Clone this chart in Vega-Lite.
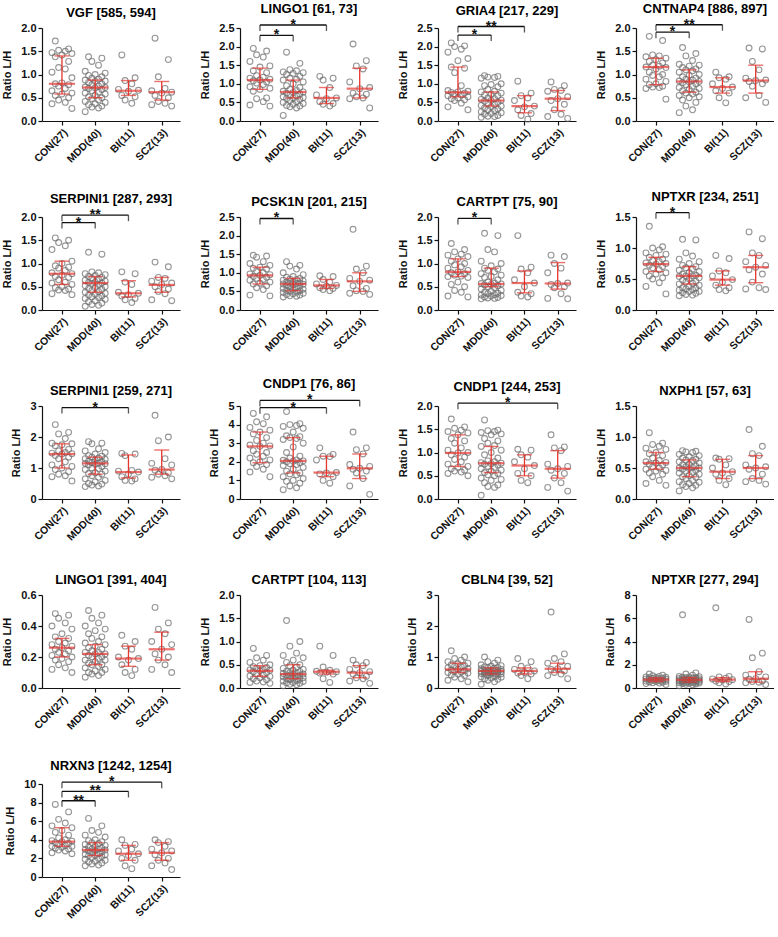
{
"$schema":"https://vega.github.io/schema/vega-lite/v6.json",
"background":"white",
"padding":{"left":1,"top":2,"right":0,"bottom":0},
"datasets":{
"panels":[
{"p":1,"t":"VGF [585, 594]","ymax":2},
{"p":2,"t":"LINGO1 [61, 73]","ymax":2.5},
{"p":3,"t":"GRIA4 [217, 229]","ymax":2.5},
{"p":4,"t":"CNTNAP4 [886, 897]","ymax":2},
{"p":5,"t":"SERPINI1 [287, 293]","ymax":2},
{"p":6,"t":"PCSK1N [201, 215]","ymax":2.5},
{"p":7,"t":"CARTPT [75, 90]","ymax":2},
{"p":8,"t":"NPTXR [234, 251]","ymax":1.5},
{"p":9,"t":"SERPINI1 [259, 271]","ymax":3},
{"p":10,"t":"CNDP1 [76, 86]","ymax":5},
{"p":11,"t":"CNDP1 [244, 253]","ymax":2},
{"p":12,"t":"NXPH1 [57, 63]","ymax":1.5},
{"p":13,"t":"LINGO1 [391, 404]","ymax":0.6},
{"p":14,"t":"CARTPT [104, 113]","ymax":2},
{"p":15,"t":"CBLN4 [39, 52]","ymax":3},
{"p":16,"t":"NPTXR [277, 294]","ymax":8},
{"p":17,"t":"NRXN3 [1242, 1254]","ymax":10}
],
"rows":[
{"p":1,"g":0,"med":0.8,"q1":0.58,"q3":1.4},{"p":1,"g":1,"med":0.72,"q1":0.5,"q3":0.88},{"p":1,"g":2,"med":0.65,"q1":0.55,"q3":0.87},{"p":1,"g":3,"med":0.62,"q1":0.45,"q3":0.85},
{"p":2,"g":0,"med":1.1,"q1":0.85,"q3":1.42},{"p":2,"g":1,"med":0.78,"q1":0.62,"q3":1.1},{"p":2,"g":2,"med":0.62,"q1":0.47,"q3":0.9},{"p":2,"g":3,"med":0.87,"q1":0.62,"q3":1.42},
{"p":3,"g":0,"med":0.77,"q1":0.65,"q3":1.45},{"p":3,"g":1,"med":0.55,"q1":0.4,"q3":0.78},{"p":3,"g":2,"med":0.4,"q1":0.22,"q3":0.68},{"p":3,"g":3,"med":0.6,"q1":0.28,"q3":0.82},
{"p":4,"g":0,"med":1.16,"q1":0.78,"q3":1.35},{"p":4,"g":1,"med":0.85,"q1":0.62,"q3":1.1},{"p":4,"g":2,"med":0.73,"q1":0.6,"q3":0.93},{"p":4,"g":3,"med":0.87,"q1":0.6,"q3":1.2},
{"p":5,"g":0,"med":0.78,"q1":0.55,"q3":1.05},{"p":5,"g":1,"med":0.58,"q1":0.38,"q3":0.72},{"p":5,"g":2,"med":0.36,"q1":0.28,"q3":0.63},{"p":5,"g":3,"med":0.54,"q1":0.38,"q3":0.7},
{"p":6,"g":0,"med":0.93,"q1":0.7,"q3":1.15},{"p":6,"g":1,"med":0.7,"q1":0.52,"q3":0.85},{"p":6,"g":2,"med":0.66,"q1":0.58,"q3":0.82},{"p":6,"g":3,"med":0.77,"q1":0.5,"q3":1.0},
{"p":7,"g":0,"med":0.82,"q1":0.72,"q3":1.1},{"p":7,"g":1,"med":0.56,"q1":0.5,"q3":0.9},{"p":7,"g":2,"med":0.58,"q1":0.37,"q3":0.84},{"p":7,"g":3,"med":0.57,"q1":0.45,"q3":1.02},
{"p":8,"g":0,"med":0.74,"q1":0.62,"q3":0.85},{"p":8,"g":1,"med":0.55,"q1":0.42,"q3":0.7},{"p":8,"g":2,"med":0.49,"q1":0.4,"q3":0.63},{"p":8,"g":3,"med":0.69,"q1":0.44,"q3":0.88},
{"p":9,"g":0,"med":1.45,"q1":1.0,"q3":1.78},{"p":9,"g":1,"med":1.15,"q1":0.8,"q3":1.35},{"p":9,"g":2,"med":0.87,"q1":0.68,"q3":1.42},{"p":9,"g":3,"med":0.95,"q1":0.8,"q3":1.58},
{"p":10,"g":0,"med":2.83,"q1":1.95,"q3":3.6},{"p":10,"g":1,"med":2.05,"q1":1.4,"q3":3.3},{"p":10,"g":2,"med":1.42,"q1":1.2,"q3":2.3},{"p":10,"g":3,"med":1.65,"q1":1.1,"q3":2.42},
{"p":11,"g":0,"med":0.99,"q1":0.7,"q3":1.38},{"p":11,"g":1,"med":0.77,"q1":0.57,"q3":1.13},{"p":11,"g":2,"med":0.72,"q1":0.5,"q3":0.95},{"p":11,"g":3,"med":0.65,"q1":0.45,"q3":1.04},
{"p":12,"g":0,"med":0.58,"q1":0.48,"q3":0.75},{"p":12,"g":1,"med":0.5,"q1":0.36,"q3":0.63},{"p":12,"g":2,"med":0.44,"q1":0.33,"q3":0.64},{"p":12,"g":3,"med":0.5,"q1":0.33,"q3":0.7},
{"p":13,"g":0,"med":0.26,"q1":0.2,"q3":0.32},{"p":13,"g":1,"med":0.22,"q1":0.15,"q3":0.28},{"p":13,"g":2,"med":0.19,"q1":0.14,"q3":0.27},{"p":13,"g":3,"med":0.25,"q1":0.18,"q3":0.36},
{"p":14,"g":0,"med":0.37,"q1":0.25,"q3":0.48},{"p":14,"g":1,"med":0.3,"q1":0.2,"q3":0.5},{"p":14,"g":2,"med":0.35,"q1":0.3,"q3":0.38},{"p":14,"g":3,"med":0.33,"q1":0.22,"q3":0.48},
{"p":15,"g":0,"med":0.6,"q1":0.5,"q3":0.8},{"p":15,"g":1,"med":0.55,"q1":0.45,"q3":0.65},{"p":15,"g":2,"med":0.55,"q1":0.45,"q3":0.65},{"p":15,"g":3,"med":0.62,"q1":0.5,"q3":0.8},
{"p":16,"g":0,"med":0.72,"q1":0.55,"q3":0.88},{"p":16,"g":1,"med":0.7,"q1":0.5,"q3":0.9},{"p":16,"g":2,"med":0.72,"q1":0.55,"q3":0.9},{"p":16,"g":3,"med":0.8,"q1":0.5,"q3":1.4},
{"p":17,"g":0,"med":3.8,"q1":3.3,"q3":5.3},{"p":17,"g":1,"med":2.9,"q1":2.3,"q3":3.7},{"p":17,"g":2,"med":2.5,"q1":1.8,"q3":3.4},{"p":17,"g":3,"med":2.6,"q1":1.8,"q3":3.7},
{"p":2,"a":0,"b":1,"by":2.3,"s":"*"},{"p":2,"a":0,"b":2,"by":2.58,"s":"*"},
{"p":3,"a":0,"b":1,"by":2.31,"s":"*"},{"p":3,"a":0,"b":2,"by":2.54,"s":"**"},
{"p":4,"a":0,"b":1,"by":1.91,"s":"*"},{"p":4,"a":0,"b":2,"by":2.07,"s":"**"},
{"p":5,"a":0,"b":1,"by":1.88,"s":"*"},{"p":5,"a":0,"b":2,"by":2.04,"s":"**"},
{"p":6,"a":0,"b":1,"by":2.46,"s":"*"},
{"p":7,"a":0,"b":1,"by":1.97,"s":"*"},
{"p":8,"a":0,"b":1,"by":1.57,"s":"*"},
{"p":9,"a":0,"b":2,"by":2.95,"s":"*"},
{"p":10,"a":0,"b":2,"by":4.91,"s":"*"},{"p":10,"a":0,"b":3,"by":5.3,"s":"*"},
{"p":11,"a":0,"b":3,"by":2.06,"s":"*"},
{"p":17,"a":0,"b":1,"by":8.2,"s":"**"},{"p":17,"a":0,"b":2,"by":9.2,"s":"**"},{"p":17,"a":0,"b":3,"by":10.2,"s":"*"},
{"p":1,"g":0,"v":1.72},{"p":1,"g":0,"v":1.55},{"p":1,"g":0,"v":1.52},{"p":1,"g":0,"v":1.5},{"p":1,"g":0,"v":1.47},{"p":1,"g":0,"v":1.45},{"p":1,"g":0,"v":1.42},{"p":1,"g":0,"v":1.38},{"p":1,"g":0,"v":1.28},{"p":1,"g":0,"v":1.15},{"p":1,"g":0,"v":1.12},{"p":1,"g":0,"v":1.05},{"p":1,"g":0,"v":0.93},{"p":1,"g":0,"v":0.82},{"p":1,"g":0,"v":0.8},{"p":1,"g":0,"v":0.78},{"p":1,"g":0,"v":0.75},{"p":1,"g":0,"v":0.7},{"p":1,"g":0,"v":0.65},{"p":1,"g":0,"v":0.6},{"p":1,"g":0,"v":0.58},{"p":1,"g":0,"v":0.55},{"p":1,"g":0,"v":0.5},{"p":1,"g":0,"v":0.45},{"p":1,"g":0,"v":0.4},{"p":1,"g":0,"v":0.37},{"p":1,"g":0,"v":0.27},
{"p":1,"g":1,"v":1.38},{"p":1,"g":1,"v":1.35},{"p":1,"g":1,"v":1.28},{"p":1,"g":1,"v":1.2},{"p":1,"g":1,"v":1.07},{"p":1,"g":1,"v":1.03},{"p":1,"g":1,"v":1.0},{"p":1,"g":1,"v":0.98},{"p":1,"g":1,"v":0.95},{"p":1,"g":1,"v":0.92},{"p":1,"g":1,"v":0.9},{"p":1,"g":1,"v":0.88},{"p":1,"g":1,"v":0.86},{"p":1,"g":1,"v":0.85},{"p":1,"g":1,"v":0.83},{"p":1,"g":1,"v":0.8},{"p":1,"g":1,"v":0.78},{"p":1,"g":1,"v":0.75},{"p":1,"g":1,"v":0.73},{"p":1,"g":1,"v":0.72},{"p":1,"g":1,"v":0.71},{"p":1,"g":1,"v":0.7},{"p":1,"g":1,"v":0.68},{"p":1,"g":1,"v":0.65},{"p":1,"g":1,"v":0.62},{"p":1,"g":1,"v":0.6},{"p":1,"g":1,"v":0.58},{"p":1,"g":1,"v":0.55},{"p":1,"g":1,"v":0.52},{"p":1,"g":1,"v":0.5},{"p":1,"g":1,"v":0.48},{"p":1,"g":1,"v":0.45},{"p":1,"g":1,"v":0.42},{"p":1,"g":1,"v":0.4},{"p":1,"g":1,"v":0.37},{"p":1,"g":1,"v":0.35},{"p":1,"g":1,"v":0.32},{"p":1,"g":1,"v":0.3},{"p":1,"g":1,"v":0.28},{"p":1,"g":1,"v":0.2},
{"p":1,"g":2,"v":1.42},{"p":1,"g":2,"v":0.93},{"p":1,"g":2,"v":0.87},{"p":1,"g":2,"v":0.8},{"p":1,"g":2,"v":0.68},{"p":1,"g":2,"v":0.66},{"p":1,"g":2,"v":0.64},{"p":1,"g":2,"v":0.55},{"p":1,"g":2,"v":0.52},{"p":1,"g":2,"v":0.45},{"p":1,"g":2,"v":0.38},
{"p":1,"g":3,"v":1.78},{"p":1,"g":3,"v":1.32},{"p":1,"g":3,"v":0.95},{"p":1,"g":3,"v":0.7},{"p":1,"g":3,"v":0.65},{"p":1,"g":3,"v":0.62},{"p":1,"g":3,"v":0.6},{"p":1,"g":3,"v":0.55},{"p":1,"g":3,"v":0.5},{"p":1,"g":3,"v":0.42},{"p":1,"g":3,"v":0.38},{"p":1,"g":3,"v":0.35},{"p":1,"g":3,"v":0.32},
{"p":2,"g":0,"v":1.95},{"p":2,"g":0,"v":1.88},{"p":2,"g":0,"v":1.78},{"p":2,"g":0,"v":1.72},{"p":2,"g":0,"v":1.6},{"p":2,"g":0,"v":1.48},{"p":2,"g":0,"v":1.45},{"p":2,"g":0,"v":1.35},{"p":2,"g":0,"v":1.3},{"p":2,"g":0,"v":1.22},{"p":2,"g":0,"v":1.18},{"p":2,"g":0,"v":1.15},{"p":2,"g":0,"v":1.12},{"p":2,"g":0,"v":1.1},{"p":2,"g":0,"v":1.08},{"p":2,"g":0,"v":1.05},{"p":2,"g":0,"v":1.02},{"p":2,"g":0,"v":0.98},{"p":2,"g":0,"v":0.92},{"p":2,"g":0,"v":0.88},{"p":2,"g":0,"v":0.85},{"p":2,"g":0,"v":0.8},{"p":2,"g":0,"v":0.62},{"p":2,"g":0,"v":0.6},{"p":2,"g":0,"v":0.52},{"p":2,"g":0,"v":0.43},{"p":2,"g":0,"v":0.4},
{"p":2,"g":1,"v":1.85},{"p":2,"g":1,"v":1.55},{"p":2,"g":1,"v":1.38},{"p":2,"g":1,"v":1.35},{"p":2,"g":1,"v":1.32},{"p":2,"g":1,"v":1.3},{"p":2,"g":1,"v":1.28},{"p":2,"g":1,"v":1.25},{"p":2,"g":1,"v":1.2},{"p":2,"g":1,"v":1.15},{"p":2,"g":1,"v":1.12},{"p":2,"g":1,"v":1.1},{"p":2,"g":1,"v":1.05},{"p":2,"g":1,"v":1.0},{"p":2,"g":1,"v":0.95},{"p":2,"g":1,"v":0.9},{"p":2,"g":1,"v":0.85},{"p":2,"g":1,"v":0.82},{"p":2,"g":1,"v":0.8},{"p":2,"g":1,"v":0.78},{"p":2,"g":1,"v":0.77},{"p":2,"g":1,"v":0.75},{"p":2,"g":1,"v":0.72},{"p":2,"g":1,"v":0.7},{"p":2,"g":1,"v":0.68},{"p":2,"g":1,"v":0.65},{"p":2,"g":1,"v":0.63},{"p":2,"g":1,"v":0.62},{"p":2,"g":1,"v":0.6},{"p":2,"g":1,"v":0.58},{"p":2,"g":1,"v":0.55},{"p":2,"g":1,"v":0.52},{"p":2,"g":1,"v":0.5},{"p":2,"g":1,"v":0.47},{"p":2,"g":1,"v":0.45},{"p":2,"g":1,"v":0.42},{"p":2,"g":1,"v":0.4},{"p":2,"g":1,"v":0.38},{"p":2,"g":1,"v":0.35},{"p":2,"g":1,"v":0.15},
{"p":2,"g":2,"v":1.2},{"p":2,"g":2,"v":1.15},{"p":2,"g":2,"v":1.1},{"p":2,"g":2,"v":0.9},{"p":2,"g":2,"v":0.7},{"p":2,"g":2,"v":0.62},{"p":2,"g":2,"v":0.6},{"p":2,"g":2,"v":0.52},{"p":2,"g":2,"v":0.47},{"p":2,"g":2,"v":0.45},{"p":2,"g":2,"v":0.4},
{"p":2,"g":3,"v":2.07},{"p":2,"g":3,"v":1.62},{"p":2,"g":3,"v":1.48},{"p":2,"g":3,"v":1.4},{"p":2,"g":3,"v":1.05},{"p":2,"g":3,"v":0.9},{"p":2,"g":3,"v":0.87},{"p":2,"g":3,"v":0.75},{"p":2,"g":3,"v":0.72},{"p":2,"g":3,"v":0.65},{"p":2,"g":3,"v":0.62},{"p":2,"g":3,"v":0.6},{"p":2,"g":3,"v":0.35},
{"p":3,"g":0,"v":2.1},{"p":3,"g":0,"v":2.02},{"p":3,"g":0,"v":2.0},{"p":3,"g":0,"v":1.93},{"p":3,"g":0,"v":1.85},{"p":3,"g":0,"v":1.68},{"p":3,"g":0,"v":1.62},{"p":3,"g":0,"v":1.45},{"p":3,"g":0,"v":1.42},{"p":3,"g":0,"v":1.3},{"p":3,"g":0,"v":0.95},{"p":3,"g":0,"v":0.82},{"p":3,"g":0,"v":0.8},{"p":3,"g":0,"v":0.78},{"p":3,"g":0,"v":0.77},{"p":3,"g":0,"v":0.75},{"p":3,"g":0,"v":0.73},{"p":3,"g":0,"v":0.7},{"p":3,"g":0,"v":0.68},{"p":3,"g":0,"v":0.65},{"p":3,"g":0,"v":0.62},{"p":3,"g":0,"v":0.6},{"p":3,"g":0,"v":0.57},{"p":3,"g":0,"v":0.55},{"p":3,"g":0,"v":0.48},{"p":3,"g":0,"v":0.38},{"p":3,"g":0,"v":0.3},
{"p":3,"g":1,"v":1.22},{"p":3,"g":1,"v":1.2},{"p":3,"g":1,"v":1.18},{"p":3,"g":1,"v":1.17},{"p":3,"g":1,"v":1.15},{"p":3,"g":1,"v":1.0},{"p":3,"g":1,"v":0.98},{"p":3,"g":1,"v":0.95},{"p":3,"g":1,"v":0.92},{"p":3,"g":1,"v":0.85},{"p":3,"g":1,"v":0.8},{"p":3,"g":1,"v":0.78},{"p":3,"g":1,"v":0.75},{"p":3,"g":1,"v":0.72},{"p":3,"g":1,"v":0.7},{"p":3,"g":1,"v":0.68},{"p":3,"g":1,"v":0.62},{"p":3,"g":1,"v":0.6},{"p":3,"g":1,"v":0.58},{"p":3,"g":1,"v":0.56},{"p":3,"g":1,"v":0.55},{"p":3,"g":1,"v":0.53},{"p":3,"g":1,"v":0.5},{"p":3,"g":1,"v":0.48},{"p":3,"g":1,"v":0.45},{"p":3,"g":1,"v":0.42},{"p":3,"g":1,"v":0.4},{"p":3,"g":1,"v":0.38},{"p":3,"g":1,"v":0.35},{"p":3,"g":1,"v":0.32},{"p":3,"g":1,"v":0.3},{"p":3,"g":1,"v":0.28},{"p":3,"g":1,"v":0.25},{"p":3,"g":1,"v":0.22},{"p":3,"g":1,"v":0.2},{"p":3,"g":1,"v":0.18},{"p":3,"g":1,"v":0.15},{"p":3,"g":1,"v":0.13},{"p":3,"g":1,"v":0.12},{"p":3,"g":1,"v":0.1},
{"p":3,"g":2,"v":1.07},{"p":3,"g":2,"v":0.75},{"p":3,"g":2,"v":0.68},{"p":3,"g":2,"v":0.62},{"p":3,"g":2,"v":0.55},{"p":3,"g":2,"v":0.4},{"p":3,"g":2,"v":0.38},{"p":3,"g":2,"v":0.3},{"p":3,"g":2,"v":0.2},{"p":3,"g":2,"v":0.15},{"p":3,"g":2,"v":0.05},
{"p":3,"g":3,"v":1.05},{"p":3,"g":3,"v":0.95},{"p":3,"g":3,"v":0.85},{"p":3,"g":3,"v":0.82},{"p":3,"g":3,"v":0.8},{"p":3,"g":3,"v":0.65},{"p":3,"g":3,"v":0.6},{"p":3,"g":3,"v":0.55},{"p":3,"g":3,"v":0.45},{"p":3,"g":3,"v":0.3},{"p":3,"g":3,"v":0.18},{"p":3,"g":3,"v":0.12},{"p":3,"g":3,"v":0.07},
{"p":4,"g":0,"v":1.82},{"p":4,"g":0,"v":1.73},{"p":4,"g":0,"v":1.42},{"p":4,"g":0,"v":1.4},{"p":4,"g":0,"v":1.38},{"p":4,"g":0,"v":1.35},{"p":4,"g":0,"v":1.32},{"p":4,"g":0,"v":1.28},{"p":4,"g":0,"v":1.25},{"p":4,"g":0,"v":1.2},{"p":4,"g":0,"v":1.18},{"p":4,"g":0,"v":1.16},{"p":4,"g":0,"v":1.15},{"p":4,"g":0,"v":1.12},{"p":4,"g":0,"v":1.05},{"p":4,"g":0,"v":1.0},{"p":4,"g":0,"v":0.98},{"p":4,"g":0,"v":0.95},{"p":4,"g":0,"v":0.9},{"p":4,"g":0,"v":0.85},{"p":4,"g":0,"v":0.8},{"p":4,"g":0,"v":0.78},{"p":4,"g":0,"v":0.75},{"p":4,"g":0,"v":0.73},{"p":4,"g":0,"v":0.72},{"p":4,"g":0,"v":0.7},{"p":4,"g":0,"v":0.47},
{"p":4,"g":1,"v":1.58},{"p":4,"g":1,"v":1.45},{"p":4,"g":1,"v":1.4},{"p":4,"g":1,"v":1.3},{"p":4,"g":1,"v":1.22},{"p":4,"g":1,"v":1.2},{"p":4,"g":1,"v":1.18},{"p":4,"g":1,"v":1.15},{"p":4,"g":1,"v":1.12},{"p":4,"g":1,"v":1.1},{"p":4,"g":1,"v":1.08},{"p":4,"g":1,"v":1.05},{"p":4,"g":1,"v":1.0},{"p":4,"g":1,"v":0.98},{"p":4,"g":1,"v":0.95},{"p":4,"g":1,"v":0.92},{"p":4,"g":1,"v":0.9},{"p":4,"g":1,"v":0.88},{"p":4,"g":1,"v":0.86},{"p":4,"g":1,"v":0.85},{"p":4,"g":1,"v":0.84},{"p":4,"g":1,"v":0.82},{"p":4,"g":1,"v":0.8},{"p":4,"g":1,"v":0.78},{"p":4,"g":1,"v":0.75},{"p":4,"g":1,"v":0.72},{"p":4,"g":1,"v":0.7},{"p":4,"g":1,"v":0.68},{"p":4,"g":1,"v":0.65},{"p":4,"g":1,"v":0.62},{"p":4,"g":1,"v":0.6},{"p":4,"g":1,"v":0.58},{"p":4,"g":1,"v":0.55},{"p":4,"g":1,"v":0.52},{"p":4,"g":1,"v":0.5},{"p":4,"g":1,"v":0.45},{"p":4,"g":1,"v":0.4},{"p":4,"g":1,"v":0.32},{"p":4,"g":1,"v":0.24},{"p":4,"g":1,"v":0.18},
{"p":4,"g":2,"v":1.05},{"p":4,"g":2,"v":0.95},{"p":4,"g":2,"v":0.93},{"p":4,"g":2,"v":0.9},{"p":4,"g":2,"v":0.8},{"p":4,"g":2,"v":0.73},{"p":4,"g":2,"v":0.7},{"p":4,"g":2,"v":0.65},{"p":4,"g":2,"v":0.6},{"p":4,"g":2,"v":0.5},{"p":4,"g":2,"v":0.39},
{"p":4,"g":3,"v":1.57},{"p":4,"g":3,"v":1.55},{"p":4,"g":3,"v":1.28},{"p":4,"g":3,"v":1.1},{"p":4,"g":3,"v":0.92},{"p":4,"g":3,"v":0.88},{"p":4,"g":3,"v":0.87},{"p":4,"g":3,"v":0.85},{"p":4,"g":3,"v":0.8},{"p":4,"g":3,"v":0.75},{"p":4,"g":3,"v":0.55},{"p":4,"g":3,"v":0.5},{"p":4,"g":3,"v":0.4},
{"p":5,"g":0,"v":1.55},{"p":5,"g":0,"v":1.5},{"p":5,"g":0,"v":1.45},{"p":5,"g":0,"v":1.38},{"p":5,"g":0,"v":1.3},{"p":5,"g":0,"v":1.05},{"p":5,"g":0,"v":1.0},{"p":5,"g":0,"v":0.95},{"p":5,"g":0,"v":0.92},{"p":5,"g":0,"v":0.9},{"p":5,"g":0,"v":0.85},{"p":5,"g":0,"v":0.8},{"p":5,"g":0,"v":0.78},{"p":5,"g":0,"v":0.75},{"p":5,"g":0,"v":0.72},{"p":5,"g":0,"v":0.7},{"p":5,"g":0,"v":0.65},{"p":5,"g":0,"v":0.6},{"p":5,"g":0,"v":0.58},{"p":5,"g":0,"v":0.55},{"p":5,"g":0,"v":0.5},{"p":5,"g":0,"v":0.48},{"p":5,"g":0,"v":0.45},{"p":5,"g":0,"v":0.43},{"p":5,"g":0,"v":0.42},{"p":5,"g":0,"v":0.35},{"p":5,"g":0,"v":0.33},
{"p":5,"g":1,"v":1.24},{"p":5,"g":1,"v":1.2},{"p":5,"g":1,"v":0.82},{"p":5,"g":1,"v":0.8},{"p":5,"g":1,"v":0.78},{"p":5,"g":1,"v":0.76},{"p":5,"g":1,"v":0.74},{"p":5,"g":1,"v":0.72},{"p":5,"g":1,"v":0.7},{"p":5,"g":1,"v":0.68},{"p":5,"g":1,"v":0.66},{"p":5,"g":1,"v":0.64},{"p":5,"g":1,"v":0.62},{"p":5,"g":1,"v":0.6},{"p":5,"g":1,"v":0.59},{"p":5,"g":1,"v":0.58},{"p":5,"g":1,"v":0.57},{"p":5,"g":1,"v":0.55},{"p":5,"g":1,"v":0.52},{"p":5,"g":1,"v":0.5},{"p":5,"g":1,"v":0.48},{"p":5,"g":1,"v":0.46},{"p":5,"g":1,"v":0.44},{"p":5,"g":1,"v":0.42},{"p":5,"g":1,"v":0.4},{"p":5,"g":1,"v":0.38},{"p":5,"g":1,"v":0.36},{"p":5,"g":1,"v":0.34},{"p":5,"g":1,"v":0.32},{"p":5,"g":1,"v":0.3},{"p":5,"g":1,"v":0.28},{"p":5,"g":1,"v":0.27},{"p":5,"g":1,"v":0.25},{"p":5,"g":1,"v":0.23},{"p":5,"g":1,"v":0.2},{"p":5,"g":1,"v":0.18},{"p":5,"g":1,"v":0.15},{"p":5,"g":1,"v":0.12},{"p":5,"g":1,"v":0.1},{"p":5,"g":1,"v":0.08},
{"p":5,"g":2,"v":0.82},{"p":5,"g":2,"v":0.78},{"p":5,"g":2,"v":0.6},{"p":5,"g":2,"v":0.55},{"p":5,"g":2,"v":0.38},{"p":5,"g":2,"v":0.36},{"p":5,"g":2,"v":0.33},{"p":5,"g":2,"v":0.3},{"p":5,"g":2,"v":0.25},{"p":5,"g":2,"v":0.22},{"p":5,"g":2,"v":0.16},
{"p":5,"g":3,"v":1.03},{"p":5,"g":3,"v":0.93},{"p":5,"g":3,"v":0.7},{"p":5,"g":3,"v":0.68},{"p":5,"g":3,"v":0.62},{"p":5,"g":3,"v":0.58},{"p":5,"g":3,"v":0.55},{"p":5,"g":3,"v":0.5},{"p":5,"g":3,"v":0.45},{"p":5,"g":3,"v":0.4},{"p":5,"g":3,"v":0.35},{"p":5,"g":3,"v":0.22},{"p":5,"g":3,"v":0.2},
{"p":6,"g":0,"v":1.47},{"p":6,"g":0,"v":1.45},{"p":6,"g":0,"v":1.42},{"p":6,"g":0,"v":1.3},{"p":6,"g":0,"v":1.25},{"p":6,"g":0,"v":1.2},{"p":6,"g":0,"v":1.15},{"p":6,"g":0,"v":1.12},{"p":6,"g":0,"v":1.1},{"p":6,"g":0,"v":1.05},{"p":6,"g":0,"v":1.0},{"p":6,"g":0,"v":0.97},{"p":6,"g":0,"v":0.95},{"p":6,"g":0,"v":0.93},{"p":6,"g":0,"v":0.9},{"p":6,"g":0,"v":0.88},{"p":6,"g":0,"v":0.85},{"p":6,"g":0,"v":0.82},{"p":6,"g":0,"v":0.8},{"p":6,"g":0,"v":0.75},{"p":6,"g":0,"v":0.72},{"p":6,"g":0,"v":0.7},{"p":6,"g":0,"v":0.65},{"p":6,"g":0,"v":0.6},{"p":6,"g":0,"v":0.55},{"p":6,"g":0,"v":0.4},{"p":6,"g":0,"v":0.38},
{"p":6,"g":1,"v":1.3},{"p":6,"g":1,"v":1.2},{"p":6,"g":1,"v":1.18},{"p":6,"g":1,"v":1.1},{"p":6,"g":1,"v":1.0},{"p":6,"g":1,"v":0.95},{"p":6,"g":1,"v":0.9},{"p":6,"g":1,"v":0.88},{"p":6,"g":1,"v":0.85},{"p":6,"g":1,"v":0.83},{"p":6,"g":1,"v":0.82},{"p":6,"g":1,"v":0.8},{"p":6,"g":1,"v":0.78},{"p":6,"g":1,"v":0.76},{"p":6,"g":1,"v":0.75},{"p":6,"g":1,"v":0.73},{"p":6,"g":1,"v":0.72},{"p":6,"g":1,"v":0.71},{"p":6,"g":1,"v":0.7},{"p":6,"g":1,"v":0.69},{"p":6,"g":1,"v":0.68},{"p":6,"g":1,"v":0.66},{"p":6,"g":1,"v":0.64},{"p":6,"g":1,"v":0.62},{"p":6,"g":1,"v":0.6},{"p":6,"g":1,"v":0.58},{"p":6,"g":1,"v":0.56},{"p":6,"g":1,"v":0.55},{"p":6,"g":1,"v":0.53},{"p":6,"g":1,"v":0.52},{"p":6,"g":1,"v":0.5},{"p":6,"g":1,"v":0.48},{"p":6,"g":1,"v":0.47},{"p":6,"g":1,"v":0.45},{"p":6,"g":1,"v":0.44},{"p":6,"g":1,"v":0.42},{"p":6,"g":1,"v":0.4},{"p":6,"g":1,"v":0.38},{"p":6,"g":1,"v":0.37},{"p":6,"g":1,"v":0.35},
{"p":6,"g":2,"v":0.92},{"p":6,"g":2,"v":0.9},{"p":6,"g":2,"v":0.82},{"p":6,"g":2,"v":0.75},{"p":6,"g":2,"v":0.7},{"p":6,"g":2,"v":0.66},{"p":6,"g":2,"v":0.64},{"p":6,"g":2,"v":0.6},{"p":6,"g":2,"v":0.58},{"p":6,"g":2,"v":0.55},{"p":6,"g":2,"v":0.52},
{"p":6,"g":3,"v":2.17},{"p":6,"g":3,"v":1.18},{"p":6,"g":3,"v":1.1},{"p":6,"g":3,"v":1.0},{"p":6,"g":3,"v":0.85},{"p":6,"g":3,"v":0.8},{"p":6,"g":3,"v":0.77},{"p":6,"g":3,"v":0.65},{"p":6,"g":3,"v":0.58},{"p":6,"g":3,"v":0.52},{"p":6,"g":3,"v":0.5},{"p":6,"g":3,"v":0.45},{"p":6,"g":3,"v":0.42},
{"p":7,"g":0,"v":1.43},{"p":7,"g":0,"v":1.3},{"p":7,"g":0,"v":1.25},{"p":7,"g":0,"v":1.2},{"p":7,"g":0,"v":1.18},{"p":7,"g":0,"v":1.15},{"p":7,"g":0,"v":1.1},{"p":7,"g":0,"v":1.05},{"p":7,"g":0,"v":1.0},{"p":7,"g":0,"v":0.97},{"p":7,"g":0,"v":0.93},{"p":7,"g":0,"v":0.9},{"p":7,"g":0,"v":0.85},{"p":7,"g":0,"v":0.82},{"p":7,"g":0,"v":0.8},{"p":7,"g":0,"v":0.78},{"p":7,"g":0,"v":0.75},{"p":7,"g":0,"v":0.73},{"p":7,"g":0,"v":0.72},{"p":7,"g":0,"v":0.7},{"p":7,"g":0,"v":0.6},{"p":7,"g":0,"v":0.55},{"p":7,"g":0,"v":0.5},{"p":7,"g":0,"v":0.42},{"p":7,"g":0,"v":0.38},{"p":7,"g":0,"v":0.3},{"p":7,"g":0,"v":0.28},
{"p":7,"g":1,"v":1.65},{"p":7,"g":1,"v":1.6},{"p":7,"g":1,"v":1.3},{"p":7,"g":1,"v":1.25},{"p":7,"g":1,"v":1.05},{"p":7,"g":1,"v":1.0},{"p":7,"g":1,"v":0.95},{"p":7,"g":1,"v":0.9},{"p":7,"g":1,"v":0.88},{"p":7,"g":1,"v":0.85},{"p":7,"g":1,"v":0.82},{"p":7,"g":1,"v":0.78},{"p":7,"g":1,"v":0.75},{"p":7,"g":1,"v":0.72},{"p":7,"g":1,"v":0.7},{"p":7,"g":1,"v":0.65},{"p":7,"g":1,"v":0.6},{"p":7,"g":1,"v":0.58},{"p":7,"g":1,"v":0.57},{"p":7,"g":1,"v":0.56},{"p":7,"g":1,"v":0.55},{"p":7,"g":1,"v":0.54},{"p":7,"g":1,"v":0.52},{"p":7,"g":1,"v":0.5},{"p":7,"g":1,"v":0.48},{"p":7,"g":1,"v":0.45},{"p":7,"g":1,"v":0.42},{"p":7,"g":1,"v":0.4},{"p":7,"g":1,"v":0.38},{"p":7,"g":1,"v":0.36},{"p":7,"g":1,"v":0.35},{"p":7,"g":1,"v":0.33},{"p":7,"g":1,"v":0.32},{"p":7,"g":1,"v":0.31},{"p":7,"g":1,"v":0.3},{"p":7,"g":1,"v":0.28},{"p":7,"g":1,"v":0.27},{"p":7,"g":1,"v":0.26},{"p":7,"g":1,"v":0.25},{"p":7,"g":1,"v":0.24},
{"p":7,"g":2,"v":1.6},{"p":7,"g":2,"v":0.92},{"p":7,"g":2,"v":0.88},{"p":7,"g":2,"v":0.8},{"p":7,"g":2,"v":0.65},{"p":7,"g":2,"v":0.58},{"p":7,"g":2,"v":0.5},{"p":7,"g":2,"v":0.38},{"p":7,"g":2,"v":0.35},{"p":7,"g":2,"v":0.3},{"p":7,"g":2,"v":0.28},
{"p":7,"g":3,"v":1.18},{"p":7,"g":3,"v":1.15},{"p":7,"g":3,"v":1.0},{"p":7,"g":3,"v":0.9},{"p":7,"g":3,"v":0.8},{"p":7,"g":3,"v":0.58},{"p":7,"g":3,"v":0.57},{"p":7,"g":3,"v":0.55},{"p":7,"g":3,"v":0.5},{"p":7,"g":3,"v":0.48},{"p":7,"g":3,"v":0.35},{"p":7,"g":3,"v":0.25},{"p":7,"g":3,"v":0.24},
{"p":8,"g":0,"v":1.35},{"p":8,"g":0,"v":1.02},{"p":8,"g":0,"v":1.0},{"p":8,"g":0,"v":0.97},{"p":8,"g":0,"v":0.92},{"p":8,"g":0,"v":0.9},{"p":8,"g":0,"v":0.88},{"p":8,"g":0,"v":0.85},{"p":8,"g":0,"v":0.82},{"p":8,"g":0,"v":0.8},{"p":8,"g":0,"v":0.78},{"p":8,"g":0,"v":0.76},{"p":8,"g":0,"v":0.75},{"p":8,"g":0,"v":0.74},{"p":8,"g":0,"v":0.72},{"p":8,"g":0,"v":0.7},{"p":8,"g":0,"v":0.68},{"p":8,"g":0,"v":0.65},{"p":8,"g":0,"v":0.62},{"p":8,"g":0,"v":0.6},{"p":8,"g":0,"v":0.58},{"p":8,"g":0,"v":0.55},{"p":8,"g":0,"v":0.52},{"p":8,"g":0,"v":0.5},{"p":8,"g":0,"v":0.44},{"p":8,"g":0,"v":0.38},{"p":8,"g":0,"v":0.26},
{"p":8,"g":1,"v":1.14},{"p":8,"g":1,"v":1.13},{"p":8,"g":1,"v":0.92},{"p":8,"g":1,"v":0.87},{"p":8,"g":1,"v":0.82},{"p":8,"g":1,"v":0.78},{"p":8,"g":1,"v":0.75},{"p":8,"g":1,"v":0.72},{"p":8,"g":1,"v":0.7},{"p":8,"g":1,"v":0.68},{"p":8,"g":1,"v":0.66},{"p":8,"g":1,"v":0.64},{"p":8,"g":1,"v":0.62},{"p":8,"g":1,"v":0.6},{"p":8,"g":1,"v":0.58},{"p":8,"g":1,"v":0.56},{"p":8,"g":1,"v":0.55},{"p":8,"g":1,"v":0.55},{"p":8,"g":1,"v":0.54},{"p":8,"g":1,"v":0.52},{"p":8,"g":1,"v":0.5},{"p":8,"g":1,"v":0.48},{"p":8,"g":1,"v":0.46},{"p":8,"g":1,"v":0.45},{"p":8,"g":1,"v":0.43},{"p":8,"g":1,"v":0.42},{"p":8,"g":1,"v":0.4},{"p":8,"g":1,"v":0.38},{"p":8,"g":1,"v":0.36},{"p":8,"g":1,"v":0.35},{"p":8,"g":1,"v":0.34},{"p":8,"g":1,"v":0.33},{"p":8,"g":1,"v":0.32},{"p":8,"g":1,"v":0.3},{"p":8,"g":1,"v":0.3},{"p":8,"g":1,"v":0.28},{"p":8,"g":1,"v":0.27},{"p":8,"g":1,"v":0.25},{"p":8,"g":1,"v":0.24},{"p":8,"g":1,"v":0.23},
{"p":8,"g":2,"v":0.88},{"p":8,"g":2,"v":0.83},{"p":8,"g":2,"v":0.63},{"p":8,"g":2,"v":0.6},{"p":8,"g":2,"v":0.55},{"p":8,"g":2,"v":0.49},{"p":8,"g":2,"v":0.45},{"p":8,"g":2,"v":0.4},{"p":8,"g":2,"v":0.36},{"p":8,"g":2,"v":0.33},{"p":8,"g":2,"v":0.31},
{"p":8,"g":3,"v":1.26},{"p":8,"g":3,"v":1.15},{"p":8,"g":3,"v":0.92},{"p":8,"g":3,"v":0.88},{"p":8,"g":3,"v":0.78},{"p":8,"g":3,"v":0.72},{"p":8,"g":3,"v":0.69},{"p":8,"g":3,"v":0.65},{"p":8,"g":3,"v":0.58},{"p":8,"g":3,"v":0.45},{"p":8,"g":3,"v":0.36},{"p":8,"g":3,"v":0.34},{"p":8,"g":3,"v":0.33},
{"p":9,"g":0,"v":2.4},{"p":9,"g":0,"v":2.15},{"p":9,"g":0,"v":2.1},{"p":9,"g":0,"v":1.95},{"p":9,"g":0,"v":1.8},{"p":9,"g":0,"v":1.78},{"p":9,"g":0,"v":1.75},{"p":9,"g":0,"v":1.72},{"p":9,"g":0,"v":1.6},{"p":9,"g":0,"v":1.55},{"p":9,"g":0,"v":1.5},{"p":9,"g":0,"v":1.48},{"p":9,"g":0,"v":1.46},{"p":9,"g":0,"v":1.45},{"p":9,"g":0,"v":1.4},{"p":9,"g":0,"v":1.35},{"p":9,"g":0,"v":1.3},{"p":9,"g":0,"v":1.2},{"p":9,"g":0,"v":1.1},{"p":9,"g":0,"v":1.05},{"p":9,"g":0,"v":1.0},{"p":9,"g":0,"v":0.95},{"p":9,"g":0,"v":0.88},{"p":9,"g":0,"v":0.8},{"p":9,"g":0,"v":0.75},{"p":9,"g":0,"v":0.72},{"p":9,"g":0,"v":0.58},
{"p":9,"g":1,"v":1.85},{"p":9,"g":1,"v":1.8},{"p":9,"g":1,"v":1.78},{"p":9,"g":1,"v":1.62},{"p":9,"g":1,"v":1.55},{"p":9,"g":1,"v":1.5},{"p":9,"g":1,"v":1.45},{"p":9,"g":1,"v":1.4},{"p":9,"g":1,"v":1.38},{"p":9,"g":1,"v":1.35},{"p":9,"g":1,"v":1.32},{"p":9,"g":1,"v":1.3},{"p":9,"g":1,"v":1.28},{"p":9,"g":1,"v":1.25},{"p":9,"g":1,"v":1.22},{"p":9,"g":1,"v":1.2},{"p":9,"g":1,"v":1.18},{"p":9,"g":1,"v":1.16},{"p":9,"g":1,"v":1.15},{"p":9,"g":1,"v":1.14},{"p":9,"g":1,"v":1.12},{"p":9,"g":1,"v":1.1},{"p":9,"g":1,"v":1.05},{"p":9,"g":1,"v":1.0},{"p":9,"g":1,"v":0.98},{"p":9,"g":1,"v":0.95},{"p":9,"g":1,"v":0.9},{"p":9,"g":1,"v":0.85},{"p":9,"g":1,"v":0.82},{"p":9,"g":1,"v":0.8},{"p":9,"g":1,"v":0.75},{"p":9,"g":1,"v":0.7},{"p":9,"g":1,"v":0.65},{"p":9,"g":1,"v":0.6},{"p":9,"g":1,"v":0.55},{"p":9,"g":1,"v":0.5},{"p":9,"g":1,"v":0.48},{"p":9,"g":1,"v":0.45},{"p":9,"g":1,"v":0.42},{"p":9,"g":1,"v":0.4},
{"p":9,"g":2,"v":1.47},{"p":9,"g":2,"v":1.45},{"p":9,"g":2,"v":1.4},{"p":9,"g":2,"v":0.92},{"p":9,"g":2,"v":0.9},{"p":9,"g":2,"v":0.87},{"p":9,"g":2,"v":0.8},{"p":9,"g":2,"v":0.72},{"p":9,"g":2,"v":0.65},{"p":9,"g":2,"v":0.6},{"p":9,"g":2,"v":0.58},
{"p":9,"g":3,"v":2.7},{"p":9,"g":3,"v":2.0},{"p":9,"g":3,"v":1.88},{"p":9,"g":3,"v":1.3},{"p":9,"g":3,"v":1.15},{"p":9,"g":3,"v":1.1},{"p":9,"g":3,"v":0.95},{"p":9,"g":3,"v":0.93},{"p":9,"g":3,"v":0.85},{"p":9,"g":3,"v":0.8},{"p":9,"g":3,"v":0.75},{"p":9,"g":3,"v":0.7},{"p":9,"g":3,"v":0.65},
{"p":10,"g":0,"v":4.6},{"p":10,"g":0,"v":4.42},{"p":10,"g":0,"v":4.15},{"p":10,"g":0,"v":4.05},{"p":10,"g":0,"v":3.85},{"p":10,"g":0,"v":3.7},{"p":10,"g":0,"v":3.6},{"p":10,"g":0,"v":3.5},{"p":10,"g":0,"v":3.3},{"p":10,"g":0,"v":3.15},{"p":10,"g":0,"v":3.0},{"p":10,"g":0,"v":2.9},{"p":10,"g":0,"v":2.85},{"p":10,"g":0,"v":2.83},{"p":10,"g":0,"v":2.6},{"p":10,"g":0,"v":2.5},{"p":10,"g":0,"v":2.4},{"p":10,"g":0,"v":2.3},{"p":10,"g":0,"v":2.2},{"p":10,"g":0,"v":2.1},{"p":10,"g":0,"v":2.0},{"p":10,"g":0,"v":1.95},{"p":10,"g":0,"v":1.85},{"p":10,"g":0,"v":1.75},{"p":10,"g":0,"v":1.6},{"p":10,"g":0,"v":1.45},{"p":10,"g":0,"v":1.2},
{"p":10,"g":1,"v":4.7},{"p":10,"g":1,"v":4.05},{"p":10,"g":1,"v":4.0},{"p":10,"g":1,"v":3.95},{"p":10,"g":1,"v":3.9},{"p":10,"g":1,"v":3.8},{"p":10,"g":1,"v":3.6},{"p":10,"g":1,"v":3.4},{"p":10,"g":1,"v":3.35},{"p":10,"g":1,"v":3.3},{"p":10,"g":1,"v":3.25},{"p":10,"g":1,"v":3.2},{"p":10,"g":1,"v":3.0},{"p":10,"g":1,"v":2.8},{"p":10,"g":1,"v":2.5},{"p":10,"g":1,"v":2.3},{"p":10,"g":1,"v":2.2},{"p":10,"g":1,"v":2.1},{"p":10,"g":1,"v":2.08},{"p":10,"g":1,"v":2.05},{"p":10,"g":1,"v":2.03},{"p":10,"g":1,"v":2.0},{"p":10,"g":1,"v":1.95},{"p":10,"g":1,"v":1.9},{"p":10,"g":1,"v":1.85},{"p":10,"g":1,"v":1.8},{"p":10,"g":1,"v":1.7},{"p":10,"g":1,"v":1.6},{"p":10,"g":1,"v":1.5},{"p":10,"g":1,"v":1.4},{"p":10,"g":1,"v":1.35},{"p":10,"g":1,"v":1.3},{"p":10,"g":1,"v":1.2},{"p":10,"g":1,"v":1.1},{"p":10,"g":1,"v":1.0},{"p":10,"g":1,"v":0.95},{"p":10,"g":1,"v":0.85},{"p":10,"g":1,"v":0.7},{"p":10,"g":1,"v":0.6},{"p":10,"g":1,"v":0.5},
{"p":10,"g":2,"v":2.75},{"p":10,"g":2,"v":2.4},{"p":10,"g":2,"v":2.3},{"p":10,"g":2,"v":2.28},{"p":10,"g":2,"v":2.1},{"p":10,"g":2,"v":1.42},{"p":10,"g":2,"v":1.4},{"p":10,"g":2,"v":1.35},{"p":10,"g":2,"v":1.2},{"p":10,"g":2,"v":1.0},{"p":10,"g":2,"v":0.85},
{"p":10,"g":3,"v":3.6},{"p":10,"g":3,"v":2.75},{"p":10,"g":3,"v":2.65},{"p":10,"g":3,"v":2.42},{"p":10,"g":3,"v":1.85},{"p":10,"g":3,"v":1.75},{"p":10,"g":3,"v":1.65},{"p":10,"g":3,"v":1.6},{"p":10,"g":3,"v":1.5},{"p":10,"g":3,"v":1.4},{"p":10,"g":3,"v":1.1},{"p":10,"g":3,"v":0.7},{"p":10,"g":3,"v":0.25},
{"p":11,"g":0,"v":1.72},{"p":11,"g":0,"v":1.55},{"p":11,"g":0,"v":1.52},{"p":11,"g":0,"v":1.48},{"p":11,"g":0,"v":1.45},{"p":11,"g":0,"v":1.42},{"p":11,"g":0,"v":1.38},{"p":11,"g":0,"v":1.3},{"p":11,"g":0,"v":1.25},{"p":11,"g":0,"v":1.2},{"p":11,"g":0,"v":1.1},{"p":11,"g":0,"v":1.05},{"p":11,"g":0,"v":1.0},{"p":11,"g":0,"v":0.99},{"p":11,"g":0,"v":0.95},{"p":11,"g":0,"v":0.9},{"p":11,"g":0,"v":0.85},{"p":11,"g":0,"v":0.8},{"p":11,"g":0,"v":0.75},{"p":11,"g":0,"v":0.7},{"p":11,"g":0,"v":0.68},{"p":11,"g":0,"v":0.65},{"p":11,"g":0,"v":0.62},{"p":11,"g":0,"v":0.6},{"p":11,"g":0,"v":0.58},{"p":11,"g":0,"v":0.55},{"p":11,"g":0,"v":0.5},
{"p":11,"g":1,"v":1.7},{"p":11,"g":1,"v":1.48},{"p":11,"g":1,"v":1.47},{"p":11,"g":1,"v":1.45},{"p":11,"g":1,"v":1.43},{"p":11,"g":1,"v":1.4},{"p":11,"g":1,"v":1.38},{"p":11,"g":1,"v":1.3},{"p":11,"g":1,"v":1.25},{"p":11,"g":1,"v":1.2},{"p":11,"g":1,"v":1.15},{"p":11,"g":1,"v":1.13},{"p":11,"g":1,"v":1.05},{"p":11,"g":1,"v":1.0},{"p":11,"g":1,"v":0.95},{"p":11,"g":1,"v":0.88},{"p":11,"g":1,"v":0.82},{"p":11,"g":1,"v":0.8},{"p":11,"g":1,"v":0.78},{"p":11,"g":1,"v":0.77},{"p":11,"g":1,"v":0.76},{"p":11,"g":1,"v":0.75},{"p":11,"g":1,"v":0.73},{"p":11,"g":1,"v":0.7},{"p":11,"g":1,"v":0.68},{"p":11,"g":1,"v":0.65},{"p":11,"g":1,"v":0.62},{"p":11,"g":1,"v":0.6},{"p":11,"g":1,"v":0.57},{"p":11,"g":1,"v":0.55},{"p":11,"g":1,"v":0.52},{"p":11,"g":1,"v":0.5},{"p":11,"g":1,"v":0.45},{"p":11,"g":1,"v":0.42},{"p":11,"g":1,"v":0.4},{"p":11,"g":1,"v":0.35},{"p":11,"g":1,"v":0.3},{"p":11,"g":1,"v":0.27},{"p":11,"g":1,"v":0.25},{"p":11,"g":1,"v":0.08},
{"p":11,"g":2,"v":1.07},{"p":11,"g":2,"v":1.05},{"p":11,"g":2,"v":0.95},{"p":11,"g":2,"v":0.9},{"p":11,"g":2,"v":0.8},{"p":11,"g":2,"v":0.72},{"p":11,"g":2,"v":0.65},{"p":11,"g":2,"v":0.55},{"p":11,"g":2,"v":0.5},{"p":11,"g":2,"v":0.4},{"p":11,"g":2,"v":0.35},
{"p":11,"g":3,"v":1.38},{"p":11,"g":3,"v":1.12},{"p":11,"g":3,"v":1.1},{"p":11,"g":3,"v":1.04},{"p":11,"g":3,"v":0.75},{"p":11,"g":3,"v":0.7},{"p":11,"g":3,"v":0.65},{"p":11,"g":3,"v":0.62},{"p":11,"g":3,"v":0.55},{"p":11,"g":3,"v":0.45},{"p":11,"g":3,"v":0.35},{"p":11,"g":3,"v":0.25},{"p":11,"g":3,"v":0.17},
{"p":12,"g":0,"v":1.07},{"p":12,"g":0,"v":0.9},{"p":12,"g":0,"v":0.88},{"p":12,"g":0,"v":0.85},{"p":12,"g":0,"v":0.82},{"p":12,"g":0,"v":0.8},{"p":12,"g":0,"v":0.75},{"p":12,"g":0,"v":0.73},{"p":12,"g":0,"v":0.7},{"p":12,"g":0,"v":0.66},{"p":12,"g":0,"v":0.62},{"p":12,"g":0,"v":0.6},{"p":12,"g":0,"v":0.59},{"p":12,"g":0,"v":0.58},{"p":12,"g":0,"v":0.56},{"p":12,"g":0,"v":0.55},{"p":12,"g":0,"v":0.52},{"p":12,"g":0,"v":0.5},{"p":12,"g":0,"v":0.48},{"p":12,"g":0,"v":0.46},{"p":12,"g":0,"v":0.45},{"p":12,"g":0,"v":0.42},{"p":12,"g":0,"v":0.4},{"p":12,"g":0,"v":0.36},{"p":12,"g":0,"v":0.3},{"p":12,"g":0,"v":0.25},{"p":12,"g":0,"v":0.22},
{"p":12,"g":1,"v":0.78},{"p":12,"g":1,"v":0.77},{"p":12,"g":1,"v":0.76},{"p":12,"g":1,"v":0.75},{"p":12,"g":1,"v":0.72},{"p":12,"g":1,"v":0.7},{"p":12,"g":1,"v":0.68},{"p":12,"g":1,"v":0.66},{"p":12,"g":1,"v":0.64},{"p":12,"g":1,"v":0.63},{"p":12,"g":1,"v":0.62},{"p":12,"g":1,"v":0.6},{"p":12,"g":1,"v":0.58},{"p":12,"g":1,"v":0.56},{"p":12,"g":1,"v":0.55},{"p":12,"g":1,"v":0.53},{"p":12,"g":1,"v":0.52},{"p":12,"g":1,"v":0.51},{"p":12,"g":1,"v":0.5},{"p":12,"g":1,"v":0.5},{"p":12,"g":1,"v":0.49},{"p":12,"g":1,"v":0.48},{"p":12,"g":1,"v":0.46},{"p":12,"g":1,"v":0.45},{"p":12,"g":1,"v":0.43},{"p":12,"g":1,"v":0.42},{"p":12,"g":1,"v":0.4},{"p":12,"g":1,"v":0.38},{"p":12,"g":1,"v":0.36},{"p":12,"g":1,"v":0.35},{"p":12,"g":1,"v":0.33},{"p":12,"g":1,"v":0.3},{"p":12,"g":1,"v":0.28},{"p":12,"g":1,"v":0.27},{"p":12,"g":1,"v":0.25},{"p":12,"g":1,"v":0.23},{"p":12,"g":1,"v":0.22},{"p":12,"g":1,"v":0.2},{"p":12,"g":1,"v":0.18},{"p":12,"g":1,"v":0.13},
{"p":12,"g":2,"v":0.66},{"p":12,"g":2,"v":0.65},{"p":12,"g":2,"v":0.64},{"p":12,"g":2,"v":0.55},{"p":12,"g":2,"v":0.5},{"p":12,"g":2,"v":0.44},{"p":12,"g":2,"v":0.42},{"p":12,"g":2,"v":0.4},{"p":12,"g":2,"v":0.33},{"p":12,"g":2,"v":0.3},{"p":12,"g":2,"v":0.23},
{"p":12,"g":3,"v":1.12},{"p":12,"g":3,"v":0.85},{"p":12,"g":3,"v":0.73},{"p":12,"g":3,"v":0.7},{"p":12,"g":3,"v":0.55},{"p":12,"g":3,"v":0.52},{"p":12,"g":3,"v":0.5},{"p":12,"g":3,"v":0.48},{"p":12,"g":3,"v":0.4},{"p":12,"g":3,"v":0.33},{"p":12,"g":3,"v":0.3},{"p":12,"g":3,"v":0.28},{"p":12,"g":3,"v":0.24},
{"p":13,"g":0,"v":0.48},{"p":13,"g":0,"v":0.47},{"p":13,"g":0,"v":0.45},{"p":13,"g":0,"v":0.42},{"p":13,"g":0,"v":0.4},{"p":13,"g":0,"v":0.38},{"p":13,"g":0,"v":0.35},{"p":13,"g":0,"v":0.33},{"p":13,"g":0,"v":0.32},{"p":13,"g":0,"v":0.3},{"p":13,"g":0,"v":0.29},{"p":13,"g":0,"v":0.28},{"p":13,"g":0,"v":0.27},{"p":13,"g":0,"v":0.26},{"p":13,"g":0,"v":0.25},{"p":13,"g":0,"v":0.24},{"p":13,"g":0,"v":0.23},{"p":13,"g":0,"v":0.22},{"p":13,"g":0,"v":0.21},{"p":13,"g":0,"v":0.2},{"p":13,"g":0,"v":0.19},{"p":13,"g":0,"v":0.18},{"p":13,"g":0,"v":0.17},{"p":13,"g":0,"v":0.15},{"p":13,"g":0,"v":0.13},{"p":13,"g":0,"v":0.12},{"p":13,"g":0,"v":0.1},
{"p":13,"g":1,"v":0.5},{"p":13,"g":1,"v":0.47},{"p":13,"g":1,"v":0.45},{"p":13,"g":1,"v":0.42},{"p":13,"g":1,"v":0.4},{"p":13,"g":1,"v":0.38},{"p":13,"g":1,"v":0.37},{"p":13,"g":1,"v":0.35},{"p":13,"g":1,"v":0.33},{"p":13,"g":1,"v":0.32},{"p":13,"g":1,"v":0.3},{"p":13,"g":1,"v":0.29},{"p":13,"g":1,"v":0.28},{"p":13,"g":1,"v":0.27},{"p":13,"g":1,"v":0.26},{"p":13,"g":1,"v":0.25},{"p":13,"g":1,"v":0.24},{"p":13,"g":1,"v":0.23},{"p":13,"g":1,"v":0.23},{"p":13,"g":1,"v":0.22},{"p":13,"g":1,"v":0.22},{"p":13,"g":1,"v":0.21},{"p":13,"g":1,"v":0.2},{"p":13,"g":1,"v":0.2},{"p":13,"g":1,"v":0.19},{"p":13,"g":1,"v":0.18},{"p":13,"g":1,"v":0.18},{"p":13,"g":1,"v":0.17},{"p":13,"g":1,"v":0.16},{"p":13,"g":1,"v":0.15},{"p":13,"g":1,"v":0.15},{"p":13,"g":1,"v":0.14},{"p":13,"g":1,"v":0.13},{"p":13,"g":1,"v":0.12},{"p":13,"g":1,"v":0.11},{"p":13,"g":1,"v":0.1},{"p":13,"g":1,"v":0.1},{"p":13,"g":1,"v":0.09},{"p":13,"g":1,"v":0.08},{"p":13,"g":1,"v":0.07},
{"p":13,"g":2,"v":0.34},{"p":13,"g":2,"v":0.3},{"p":13,"g":2,"v":0.27},{"p":13,"g":2,"v":0.25},{"p":13,"g":2,"v":0.2},{"p":13,"g":2,"v":0.19},{"p":13,"g":2,"v":0.18},{"p":13,"g":2,"v":0.15},{"p":13,"g":2,"v":0.12},{"p":13,"g":2,"v":0.1},{"p":13,"g":2,"v":0.08},
{"p":13,"g":3,"v":0.52},{"p":13,"g":3,"v":0.42},{"p":13,"g":3,"v":0.38},{"p":13,"g":3,"v":0.35},{"p":13,"g":3,"v":0.3},{"p":13,"g":3,"v":0.28},{"p":13,"g":3,"v":0.25},{"p":13,"g":3,"v":0.22},{"p":13,"g":3,"v":0.2},{"p":13,"g":3,"v":0.18},{"p":13,"g":3,"v":0.15},{"p":13,"g":3,"v":0.12},{"p":13,"g":3,"v":0.1},
{"p":14,"g":0,"v":0.85},{"p":14,"g":0,"v":0.7},{"p":14,"g":0,"v":0.65},{"p":14,"g":0,"v":0.6},{"p":14,"g":0,"v":0.55},{"p":14,"g":0,"v":0.5},{"p":14,"g":0,"v":0.48},{"p":14,"g":0,"v":0.46},{"p":14,"g":0,"v":0.44},{"p":14,"g":0,"v":0.42},{"p":14,"g":0,"v":0.4},{"p":14,"g":0,"v":0.39},{"p":14,"g":0,"v":0.38},{"p":14,"g":0,"v":0.37},{"p":14,"g":0,"v":0.35},{"p":14,"g":0,"v":0.33},{"p":14,"g":0,"v":0.3},{"p":14,"g":0,"v":0.28},{"p":14,"g":0,"v":0.26},{"p":14,"g":0,"v":0.25},{"p":14,"g":0,"v":0.22},{"p":14,"g":0,"v":0.2},{"p":14,"g":0,"v":0.18},{"p":14,"g":0,"v":0.15},{"p":14,"g":0,"v":0.13},{"p":14,"g":0,"v":0.12},{"p":14,"g":0,"v":0.1},
{"p":14,"g":1,"v":1.45},{"p":14,"g":1,"v":1.0},{"p":14,"g":1,"v":0.9},{"p":14,"g":1,"v":0.75},{"p":14,"g":1,"v":0.7},{"p":14,"g":1,"v":0.65},{"p":14,"g":1,"v":0.6},{"p":14,"g":1,"v":0.55},{"p":14,"g":1,"v":0.5},{"p":14,"g":1,"v":0.48},{"p":14,"g":1,"v":0.45},{"p":14,"g":1,"v":0.42},{"p":14,"g":1,"v":0.4},{"p":14,"g":1,"v":0.38},{"p":14,"g":1,"v":0.36},{"p":14,"g":1,"v":0.35},{"p":14,"g":1,"v":0.33},{"p":14,"g":1,"v":0.32},{"p":14,"g":1,"v":0.31},{"p":14,"g":1,"v":0.3},{"p":14,"g":1,"v":0.3},{"p":14,"g":1,"v":0.28},{"p":14,"g":1,"v":0.27},{"p":14,"g":1,"v":0.26},{"p":14,"g":1,"v":0.25},{"p":14,"g":1,"v":0.24},{"p":14,"g":1,"v":0.22},{"p":14,"g":1,"v":0.21},{"p":14,"g":1,"v":0.2},{"p":14,"g":1,"v":0.19},{"p":14,"g":1,"v":0.18},{"p":14,"g":1,"v":0.16},{"p":14,"g":1,"v":0.15},{"p":14,"g":1,"v":0.14},{"p":14,"g":1,"v":0.12},{"p":14,"g":1,"v":0.11},{"p":14,"g":1,"v":0.1},{"p":14,"g":1,"v":0.08},{"p":14,"g":1,"v":0.07},{"p":14,"g":1,"v":0.05},
{"p":14,"g":2,"v":0.9},{"p":14,"g":2,"v":0.7},{"p":14,"g":2,"v":0.45},{"p":14,"g":2,"v":0.38},{"p":14,"g":2,"v":0.36},{"p":14,"g":2,"v":0.35},{"p":14,"g":2,"v":0.34},{"p":14,"g":2,"v":0.32},{"p":14,"g":2,"v":0.3},{"p":14,"g":2,"v":0.2},{"p":14,"g":2,"v":0.12},
{"p":14,"g":3,"v":0.6},{"p":14,"g":3,"v":0.55},{"p":14,"g":3,"v":0.5},{"p":14,"g":3,"v":0.48},{"p":14,"g":3,"v":0.4},{"p":14,"g":3,"v":0.35},{"p":14,"g":3,"v":0.33},{"p":14,"g":3,"v":0.3},{"p":14,"g":3,"v":0.25},{"p":14,"g":3,"v":0.22},{"p":14,"g":3,"v":0.2},{"p":14,"g":3,"v":0.15},{"p":14,"g":3,"v":0.1},
{"p":15,"g":0,"v":1.2},{"p":15,"g":0,"v":1.0},{"p":15,"g":0,"v":0.95},{"p":15,"g":0,"v":0.9},{"p":15,"g":0,"v":0.85},{"p":15,"g":0,"v":0.8},{"p":15,"g":0,"v":0.78},{"p":15,"g":0,"v":0.75},{"p":15,"g":0,"v":0.72},{"p":15,"g":0,"v":0.7},{"p":15,"g":0,"v":0.68},{"p":15,"g":0,"v":0.65},{"p":15,"g":0,"v":0.62},{"p":15,"g":0,"v":0.6},{"p":15,"g":0,"v":0.58},{"p":15,"g":0,"v":0.56},{"p":15,"g":0,"v":0.55},{"p":15,"g":0,"v":0.52},{"p":15,"g":0,"v":0.5},{"p":15,"g":0,"v":0.48},{"p":15,"g":0,"v":0.45},{"p":15,"g":0,"v":0.42},{"p":15,"g":0,"v":0.4},{"p":15,"g":0,"v":0.35},{"p":15,"g":0,"v":0.3},{"p":15,"g":0,"v":0.25},{"p":15,"g":0,"v":0.2},
{"p":15,"g":1,"v":1.0},{"p":15,"g":1,"v":0.9},{"p":15,"g":1,"v":0.85},{"p":15,"g":1,"v":0.8},{"p":15,"g":1,"v":0.75},{"p":15,"g":1,"v":0.72},{"p":15,"g":1,"v":0.7},{"p":15,"g":1,"v":0.68},{"p":15,"g":1,"v":0.66},{"p":15,"g":1,"v":0.65},{"p":15,"g":1,"v":0.64},{"p":15,"g":1,"v":0.62},{"p":15,"g":1,"v":0.6},{"p":15,"g":1,"v":0.58},{"p":15,"g":1,"v":0.57},{"p":15,"g":1,"v":0.56},{"p":15,"g":1,"v":0.55},{"p":15,"g":1,"v":0.55},{"p":15,"g":1,"v":0.54},{"p":15,"g":1,"v":0.53},{"p":15,"g":1,"v":0.52},{"p":15,"g":1,"v":0.5},{"p":15,"g":1,"v":0.5},{"p":15,"g":1,"v":0.49},{"p":15,"g":1,"v":0.48},{"p":15,"g":1,"v":0.47},{"p":15,"g":1,"v":0.46},{"p":15,"g":1,"v":0.45},{"p":15,"g":1,"v":0.44},{"p":15,"g":1,"v":0.42},{"p":15,"g":1,"v":0.4},{"p":15,"g":1,"v":0.38},{"p":15,"g":1,"v":0.36},{"p":15,"g":1,"v":0.35},{"p":15,"g":1,"v":0.32},{"p":15,"g":1,"v":0.3},{"p":15,"g":1,"v":0.28},{"p":15,"g":1,"v":0.25},{"p":15,"g":1,"v":0.2},{"p":15,"g":1,"v":0.12},
{"p":15,"g":2,"v":0.95},{"p":15,"g":2,"v":0.85},{"p":15,"g":2,"v":0.7},{"p":15,"g":2,"v":0.65},{"p":15,"g":2,"v":0.6},{"p":15,"g":2,"v":0.55},{"p":15,"g":2,"v":0.5},{"p":15,"g":2,"v":0.48},{"p":15,"g":2,"v":0.45},{"p":15,"g":2,"v":0.4},{"p":15,"g":2,"v":0.3},
{"p":15,"g":3,"v":2.45},{"p":15,"g":3,"v":1.1},{"p":15,"g":3,"v":0.95},{"p":15,"g":3,"v":0.85},{"p":15,"g":3,"v":0.8},{"p":15,"g":3,"v":0.7},{"p":15,"g":3,"v":0.62},{"p":15,"g":3,"v":0.6},{"p":15,"g":3,"v":0.55},{"p":15,"g":3,"v":0.5},{"p":15,"g":3,"v":0.45},{"p":15,"g":3,"v":0.4},{"p":15,"g":3,"v":0.3},
{"p":16,"g":0,"v":1.2},{"p":16,"g":0,"v":1.1},{"p":16,"g":0,"v":1.05},{"p":16,"g":0,"v":1.0},{"p":16,"g":0,"v":0.95},{"p":16,"g":0,"v":0.92},{"p":16,"g":0,"v":0.9},{"p":16,"g":0,"v":0.88},{"p":16,"g":0,"v":0.85},{"p":16,"g":0,"v":0.82},{"p":16,"g":0,"v":0.8},{"p":16,"g":0,"v":0.78},{"p":16,"g":0,"v":0.75},{"p":16,"g":0,"v":0.72},{"p":16,"g":0,"v":0.7},{"p":16,"g":0,"v":0.68},{"p":16,"g":0,"v":0.65},{"p":16,"g":0,"v":0.62},{"p":16,"g":0,"v":0.6},{"p":16,"g":0,"v":0.58},{"p":16,"g":0,"v":0.55},{"p":16,"g":0,"v":0.52},{"p":16,"g":0,"v":0.5},{"p":16,"g":0,"v":0.45},{"p":16,"g":0,"v":0.42},{"p":16,"g":0,"v":0.38},{"p":16,"g":0,"v":0.3},
{"p":16,"g":1,"v":6.3},{"p":16,"g":1,"v":1.3},{"p":16,"g":1,"v":1.2},{"p":16,"g":1,"v":1.1},{"p":16,"g":1,"v":1.0},{"p":16,"g":1,"v":0.98},{"p":16,"g":1,"v":0.95},{"p":16,"g":1,"v":0.92},{"p":16,"g":1,"v":0.9},{"p":16,"g":1,"v":0.88},{"p":16,"g":1,"v":0.85},{"p":16,"g":1,"v":0.82},{"p":16,"g":1,"v":0.8},{"p":16,"g":1,"v":0.78},{"p":16,"g":1,"v":0.76},{"p":16,"g":1,"v":0.74},{"p":16,"g":1,"v":0.72},{"p":16,"g":1,"v":0.7},{"p":16,"g":1,"v":0.7},{"p":16,"g":1,"v":0.68},{"p":16,"g":1,"v":0.66},{"p":16,"g":1,"v":0.65},{"p":16,"g":1,"v":0.63},{"p":16,"g":1,"v":0.62},{"p":16,"g":1,"v":0.6},{"p":16,"g":1,"v":0.58},{"p":16,"g":1,"v":0.56},{"p":16,"g":1,"v":0.55},{"p":16,"g":1,"v":0.52},{"p":16,"g":1,"v":0.5},{"p":16,"g":1,"v":0.48},{"p":16,"g":1,"v":0.46},{"p":16,"g":1,"v":0.44},{"p":16,"g":1,"v":0.42},{"p":16,"g":1,"v":0.4},{"p":16,"g":1,"v":0.38},{"p":16,"g":1,"v":0.35},{"p":16,"g":1,"v":0.32},{"p":16,"g":1,"v":0.28},{"p":16,"g":1,"v":0.2},
{"p":16,"g":2,"v":6.9},{"p":16,"g":2,"v":1.0},{"p":16,"g":2,"v":0.95},{"p":16,"g":2,"v":0.85},{"p":16,"g":2,"v":0.78},{"p":16,"g":2,"v":0.72},{"p":16,"g":2,"v":0.68},{"p":16,"g":2,"v":0.6},{"p":16,"g":2,"v":0.55},{"p":16,"g":2,"v":0.45},{"p":16,"g":2,"v":0.35},
{"p":16,"g":3,"v":5.9},{"p":16,"g":3,"v":3.0},{"p":16,"g":3,"v":2.6},{"p":16,"g":3,"v":1.4},{"p":16,"g":3,"v":1.1},{"p":16,"g":3,"v":0.95},{"p":16,"g":3,"v":0.8},{"p":16,"g":3,"v":0.75},{"p":16,"g":3,"v":0.6},{"p":16,"g":3,"v":0.55},{"p":16,"g":3,"v":0.5},{"p":16,"g":3,"v":0.45},{"p":16,"g":3,"v":0.3},
{"p":17,"g":0,"v":7.8},{"p":17,"g":0,"v":7.0},{"p":17,"g":0,"v":6.2},{"p":17,"g":0,"v":5.8},{"p":17,"g":0,"v":5.5},{"p":17,"g":0,"v":5.3},{"p":17,"g":0,"v":5.0},{"p":17,"g":0,"v":4.8},{"p":17,"g":0,"v":4.5},{"p":17,"g":0,"v":4.2},{"p":17,"g":0,"v":4.0},{"p":17,"g":0,"v":3.9},{"p":17,"g":0,"v":3.85},{"p":17,"g":0,"v":3.8},{"p":17,"g":0,"v":3.7},{"p":17,"g":0,"v":3.6},{"p":17,"g":0,"v":3.5},{"p":17,"g":0,"v":3.4},{"p":17,"g":0,"v":3.3},{"p":17,"g":0,"v":3.3},{"p":17,"g":0,"v":3.2},{"p":17,"g":0,"v":3.1},{"p":17,"g":0,"v":3.0},{"p":17,"g":0,"v":2.9},{"p":17,"g":0,"v":2.8},{"p":17,"g":0,"v":2.6},{"p":17,"g":0,"v":2.5},
{"p":17,"g":1,"v":6.3},{"p":17,"g":1,"v":5.5},{"p":17,"g":1,"v":5.0},{"p":17,"g":1,"v":4.8},{"p":17,"g":1,"v":4.5},{"p":17,"g":1,"v":4.3},{"p":17,"g":1,"v":4.0},{"p":17,"g":1,"v":3.9},{"p":17,"g":1,"v":3.8},{"p":17,"g":1,"v":3.7},{"p":17,"g":1,"v":3.6},{"p":17,"g":1,"v":3.5},{"p":17,"g":1,"v":3.4},{"p":17,"g":1,"v":3.3},{"p":17,"g":1,"v":3.2},{"p":17,"g":1,"v":3.1},{"p":17,"g":1,"v":3.0},{"p":17,"g":1,"v":3.0},{"p":17,"g":1,"v":2.95},{"p":17,"g":1,"v":2.9},{"p":17,"g":1,"v":2.85},{"p":17,"g":1,"v":2.8},{"p":17,"g":1,"v":2.7},{"p":17,"g":1,"v":2.6},{"p":17,"g":1,"v":2.5},{"p":17,"g":1,"v":2.45},{"p":17,"g":1,"v":2.4},{"p":17,"g":1,"v":2.35},{"p":17,"g":1,"v":2.3},{"p":17,"g":1,"v":2.2},{"p":17,"g":1,"v":2.1},{"p":17,"g":1,"v":2.0},{"p":17,"g":1,"v":1.9},{"p":17,"g":1,"v":1.8},{"p":17,"g":1,"v":1.7},{"p":17,"g":1,"v":1.6},{"p":17,"g":1,"v":1.5},{"p":17,"g":1,"v":1.4},{"p":17,"g":1,"v":1.3},{"p":17,"g":1,"v":1.2},
{"p":17,"g":2,"v":4.0},{"p":17,"g":2,"v":3.5},{"p":17,"g":2,"v":3.4},{"p":17,"g":2,"v":3.0},{"p":17,"g":2,"v":2.8},{"p":17,"g":2,"v":2.5},{"p":17,"g":2,"v":2.3},{"p":17,"g":2,"v":2.0},{"p":17,"g":2,"v":1.8},{"p":17,"g":2,"v":1.2},{"p":17,"g":2,"v":0.9},
{"p":17,"g":3,"v":4.0},{"p":17,"g":3,"v":3.8},{"p":17,"g":3,"v":3.7},{"p":17,"g":3,"v":3.3},{"p":17,"g":3,"v":3.0},{"p":17,"g":3,"v":2.8},{"p":17,"g":3,"v":2.6},{"p":17,"g":3,"v":2.4},{"p":17,"g":3,"v":2.0},{"p":17,"g":3,"v":1.8},{"p":17,"g":3,"v":1.5},{"p":17,"g":3,"v":1.2},{"p":17,"g":3,"v":0.8}
]
},
"data":{"name":"rows"},
"transform":[
{"lookup":"p","from":{"data":{"name":"panels"},"key":"p","fields":["t","ymax"]}}
],
"facet":{"field":"t","type":"nominal","sort":{"field":"p","op":"min"},"title":null,
 "header":{"labelFont":"Liberation Sans","labelFontSize":13,"labelFontWeight":"bold","labelColor":"black","labelPadding":2}},
"columns":4,
"spacing":{"row":96,"column":60},
"bounds":"flush",
"resolve":{"scale":{"y":"independent"},"axis":{"x":"independent","y":"independent"}},
"spec":{
 "width":138,"height":93,
 "layer":[
  {
   "transform":[{"filter":"isValid(datum.med)"}],
   "mark":{"type":"point","opacity":0},
   "encoding":{
    "x":{"field":"g","type":"quantitative","scale":{"domain":[-0.6,3.55],"nice":false,"zero":false},
      "axis":{"values":[0,1,2,3],"labelExpr":"['CON(27)','MDD(40)','BI(11)','SCZ(13)'][datum.value]","labelAngle":-45,"labelOverlap":false,"labelFontSize":10.5,"title":null}},
    "y":{"field":"ymax","type":"quantitative","scale":{"zero":true,"nice":false},"axis":{"title":"Ratio L/H","tickCount":4}}
   }
  },
  {
   "transform":[
    {"filter":"isValid(datum.v)"},
    {"window":[{"op":"row_number","as":"r"}],"groupby":["p","g"],"sort":[{"field":"v","order":"descending"}]},
    {"calculate":"datum.g + [0,-2,2,-1,1,-3,3][datum.r % 7] * 0.1","as":"xj"}
   ],
   "mark":{"type":"point","filled":false,"stroke":"#6b6b6b","strokeWidth":1.1,"size":34},
   "encoding":{
    "x":{"field":"xj","type":"quantitative"},
    "y":{"field":"v","type":"quantitative"}
   }
  },
  {
   "transform":[{"filter":"isValid(datum.med)"}],
   "mark":{"type":"rule","color":"#e5352d","strokeWidth":1.3},
   "encoding":{"x":{"field":"g","type":"quantitative"},"y":{"field":"q1","type":"quantitative"},"y2":{"field":"q3"}}
  },
  {
   "transform":[{"filter":"isValid(datum.med)"}],
   "mark":{"type":"tick","orient":"horizontal","color":"#e5352d","size":26,"thickness":2.2},
   "encoding":{"x":{"field":"g","type":"quantitative"},"y":{"field":"med","type":"quantitative"}}
  },
  {
   "transform":[{"filter":"isValid(datum.med)"}],
   "mark":{"type":"tick","orient":"horizontal","color":"#e5352d","size":15,"thickness":1.4},
   "encoding":{"x":{"field":"g","type":"quantitative"},"y":{"field":"q1","type":"quantitative"}}
  },
  {
   "transform":[{"filter":"isValid(datum.med)"}],
   "mark":{"type":"tick","orient":"horizontal","color":"#e5352d","size":15,"thickness":1.4},
   "encoding":{"x":{"field":"g","type":"quantitative"},"y":{"field":"q3","type":"quantitative"}}
  },
  {
   "transform":[{"filter":"isValid(datum.by)"}],
   "mark":{"type":"rule","color":"#111","strokeWidth":1.3,"yOffset":{"expr":"(datum.ymax - datum.by) / datum.ymax * 93"}},
   "encoding":{"x":{"field":"a","type":"quantitative"},"x2":{"field":"b"},"y":{"field":"ymax","type":"quantitative"}}
  },
  {
   "transform":[{"filter":"isValid(datum.by)"},{"fold":["a","b"],"as":["k","xe"]}],
   "mark":{"type":"tick","orient":"vertical","color":"#111","size":6,"thickness":1.3,"yOffset":{"expr":"(datum.ymax - datum.by) / datum.ymax * 93 + 3"}},
   "encoding":{"x":{"field":"xe","type":"quantitative"},"y":{"field":"ymax","type":"quantitative"}}
  },
  {
   "transform":[{"filter":"isValid(datum.by)"},{"calculate":"(datum.a + datum.b) / 2","as":"mid"}],
   "mark":{"type":"text","font":"Liberation Sans","fontSize":14,"fontWeight":"bold","color":"#111","baseline":"alphabetic","yOffset":{"expr":"(datum.ymax - datum.by) / datum.ymax * 93 + 4"}},
   "encoding":{"x":{"field":"mid","type":"quantitative"},"y":{"field":"ymax","type":"quantitative"},"text":{"field":"s"}}
  }
 ]
},
"config":{
 "view":{"stroke":null},
 "font":"Liberation Sans",
 "axis":{"grid":false,"labelFont":"Liberation Sans","labelFontWeight":"bold","labelFontSize":11,"labelColor":"#111","titleFont":"Liberation Sans","titleFontWeight":"bold","titleFontSize":11,"titleColor":"#111","domainColor":"#111","tickColor":"#111","domainWidth":1.2,"tickWidth":1.2,"tickSize":4,"labelPadding":2,"titlePadding":8}
}
}
